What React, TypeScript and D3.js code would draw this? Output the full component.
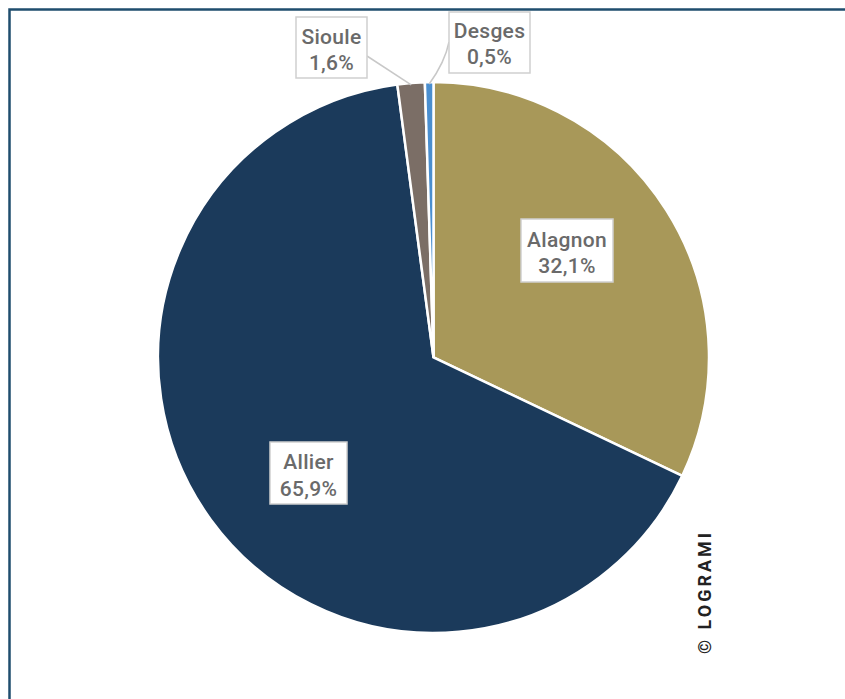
import React from "react";
import * as d3 from "d3";

const categories = ["Alagnon", "Allier", "Sioule", "Desges"];
const values = [32.1, 65.9, 1.6, 0.5];
const valueLabels = ["32,1%", "65,9%", "1,6%", "0,5%"];
const colors = ["#a89859", "#1b3a5b", "#7b6e66", "#4a8fd0"];

const W = 845;
const H = 699;
const cx = 433.5;
const cy = 357.5;
const R = 275.5;

// label box layout (x, y, w, h) and text baselines
const boxes = [
  { x: 521, y: 219, w: 92, h: 63, b1: 247, b2: 273 },
  { x: 270, y: 442, w: 77, h: 62, b1: 469, b2: 496 },
  { x: 296, y: 17, w: 71, h: 61, b1: 44, b2: 70 },
  { x: 449, y: 12, w: 81, h: 61, b1: 38, b2: 64 },
];

export default function App() {
  const pie = d3
    .pie<number>()
    .sort(null)
    .value((d) => d)
    .startAngle(0)
    .endAngle(2 * Math.PI);
  const arcs = pie(values);
  const arc = d3.arc<d3.PieArcDatum<number>>().innerRadius(0).outerRadius(R);
  const edge = d3.arc<d3.PieArcDatum<number>>().innerRadius(R - 2).outerRadius(R - 2);

  const siouleAnchor = edge.centroid(arcs[2]);
  const desgesAnchor = edge.centroid(arcs[3]);

  const font = "Roboto, 'DejaVu Sans', sans-serif";

  return (
    <svg
      width={W}
      height={H}
      style={{ position: "absolute", left: 0, top: 0, background: "#fff" }}
    >
      <rect x={0} y={0} width={W} height={H} fill="#fff" />
      <rect x={9.5} y={9.5} width={W + 20} height={H + 20} fill="none" stroke="#1f4d6e" strokeWidth={2.5} />
      <g transform={`translate(${cx},${cy})`}>
        {arcs.map((a, i) => (
          <path key={categories[i]} d={arc(a) || ""} fill={colors[i]} stroke="#fff" strokeWidth={2.5} />
        ))}
      </g>
      {/* leader lines */}
      <polyline
        points={`${boxes[2].x + boxes[2].w},${56} ${cx + siouleAnchor[0]},${cy + siouleAnchor[1]}`}
        fill="none"
        stroke="#c8c8c8"
        strokeWidth={1.5}
      />
      <path
        d={`M${boxes[3].x},${42} Q${boxes[3].x - 4},${62} ${cx + desgesAnchor[0]},${cy + desgesAnchor[1]}`}
        fill="none"
        stroke="#c8c8c8"
        strokeWidth={1.5}
      />
      {boxes.map((b, i) => (
        <g key={"lab" + i}>
          <rect x={b.x} y={b.y} width={b.w} height={b.h} fill="#fff" stroke="#cfcfcf" strokeWidth={1.5} />
          <text
            x={b.x + b.w / 2}
            y={b.b1}
            textAnchor="middle"
            fontFamily={font}
            fontSize={21}
            fontWeight={500}
            letterSpacing={0.3}
            fill="#6a6a6a"
          >
            {categories[i]}
          </text>
          <text
            x={b.x + b.w / 2}
            y={b.b2}
            textAnchor="middle"
            fontFamily={font}
            fontSize={21}
            fontWeight={500}
            letterSpacing={0.3}
            fill="#6a6a6a"
          >
            {valueLabels[i]}
          </text>
        </g>
      ))}
      <text
        transform={`translate(711,654) rotate(-90)`}
        fontFamily={font}
        fontSize={18}
        fontWeight={700}
        letterSpacing={3}
        fill="#222"
      >
        © LOGRAMI
      </text>
    </svg>
  );
}
